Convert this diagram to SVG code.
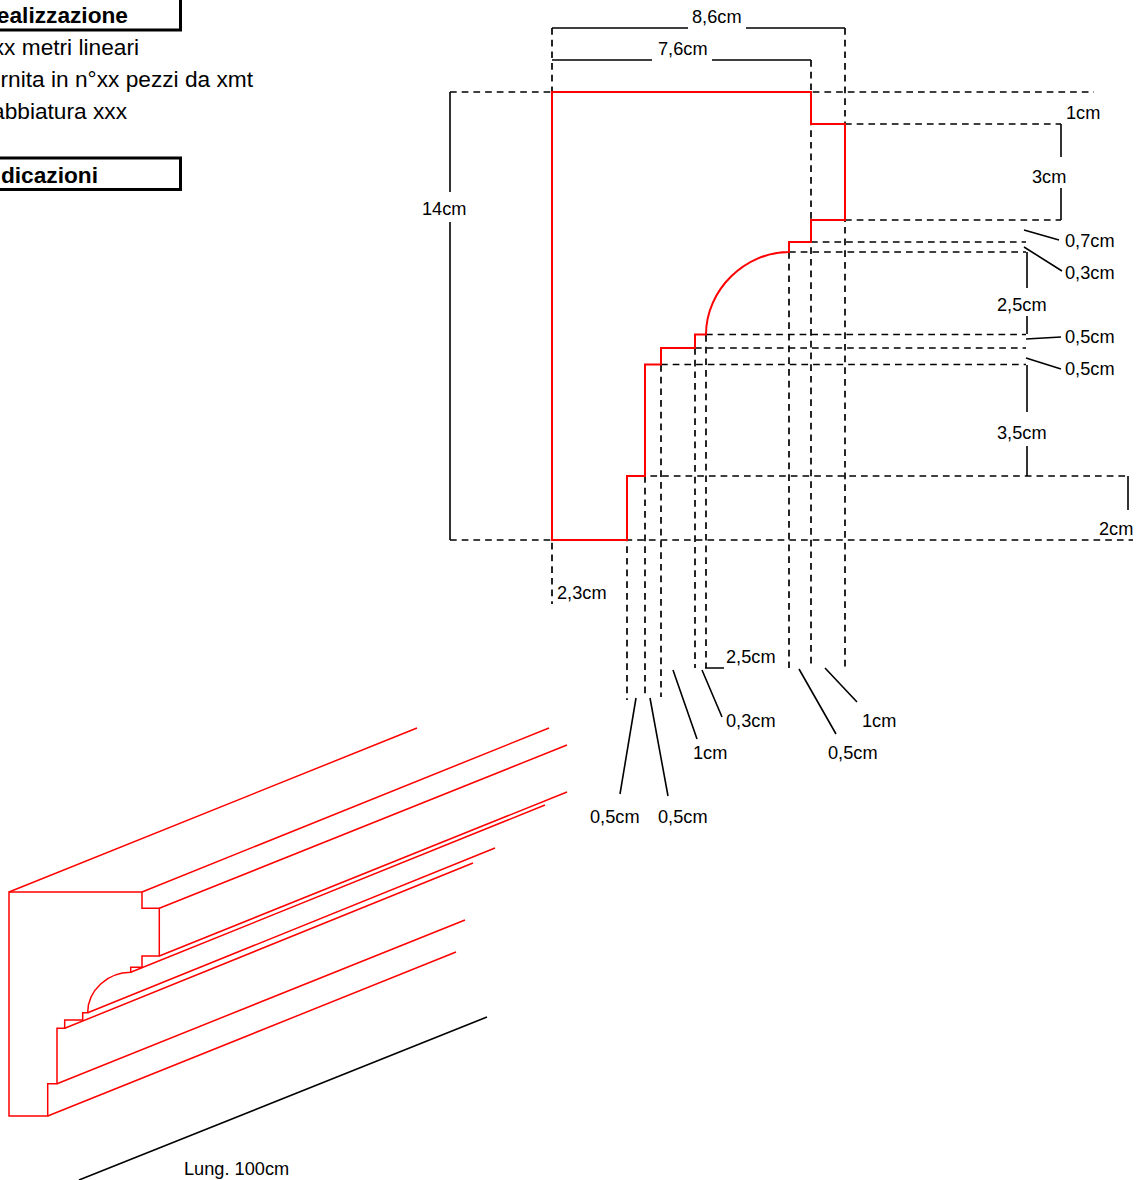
<svg xmlns="http://www.w3.org/2000/svg" width="1138" height="1180" viewBox="0 0 1138 1180">
<style>
text{font-family:"Liberation Sans",Arial,sans-serif;fill:#000}
.d{font-size:18.2px}
.h{font-size:22.7px;font-weight:bold}
.t{font-size:22.7px}
.red{fill:none;stroke:#f00;stroke-width:2;stroke-linejoin:miter}
.red2{fill:none;stroke:#f00;stroke-width:1.5}
.dash{fill:none;stroke:#000;stroke-width:1.7;stroke-dasharray:6.7 5}
.sol{fill:none;stroke:#000;stroke-width:1.6}
.box{fill:none;stroke:#000;stroke-width:3}
</style>
<rect width="1138" height="1180" fill="#fff"/>
<g id="notes">
<path class="box" d="M-10,30H180.500V-10M-10,158H180.500V189.500H-10"/>
<text class="h" x="128" y="23" text-anchor="end">ealizzazione</text>
<text class="t" x="139" y="55" text-anchor="end">xx metri lineari</text>
<text class="t" x="253" y="87" text-anchor="end">rnita in n°xx pezzi da xmt</text>
<text class="t" x="127" y="119" text-anchor="end">abbiatura xxx</text>
<text class="h" x="98" y="183" text-anchor="end">dicazioni</text>
</g>
<g id="dashes">
<path class="dash" d="M450,92H1094M845,124H1061M845,220H1061M811,242H1026M789,252H1026M706,334.500H1026M695,348H1026M661,364.500H1026M627,476H1128M450,540H1133"/>
<path class="dash" d="M552,28V604M811,60V668M845,28V670M789,252V668M706,335V668M695,348V668M661,365V697M645,476V697M627,476V700"/>
</g>
<g id="dimensions">
<path class="sol" d="M552,28H688M746,28H845M552,60H652M712,60H811M450,92V192M450,222V540M1061,124V157M1061,188V220M1027,252V288M1027,316V334M1027,365V412M1027,446V476M1128,476V510"/>
<path class="sol" d="M1024,230L1059,240M1024,247L1062,271M1026,339L1061,337M1026,358L1061,369M636,698L620,794M650,698L668,796M673,670L697,739M702,670L722,717M705,668H724M799,669L836,734M825,668L857,702M487,1017L79,1180"/>
</g>
<g id="profile">
<path class="red" d="M552,92H811V124H845V220H811V242H789V252C745,252 706,290 706,334.500H695V348H661V364.500H645V476H627V540H552Z"/>
</g>
<g id="isometric">
<path class="red2" d="M9,892H142V908.300H159.300V956H142V967.300H130.700V972.300C108,972.300 87.700,990 87.700,1012.700H82.700V1020H64.700V1028.300H57V1083.700H47.700V1116H9Z"/>
<path class="red2" d="M9,892L417,728M142,892L549,728M159.300,908.300L567,745M159.300,956L567,792M130.700,972.300L545,805M87.700,1012.700L495,848M64.700,1028.300L473,863M57,1083.700L465,920M47.700,1116L456,952"/>
</g>
<g id="labels">
<text class="d" x="692" y="23">8,6cm</text>
<text class="d" x="658" y="55">7,6cm</text>
<text class="d" x="1066" y="119">1cm</text>
<text class="d" x="1032" y="183">3cm</text>
<text class="d" x="422" y="215">14cm</text>
<text class="d" x="1065" y="247">0,7cm</text>
<text class="d" x="1065" y="279">0,3cm</text>
<text class="d" x="997" y="311">2,5cm</text>
<text class="d" x="1065" y="343">0,5cm</text>
<text class="d" x="1065" y="375">0,5cm</text>
<text class="d" x="997" y="439">3,5cm</text>
<text class="d" x="1099" y="535">2cm</text>
<text class="d" x="557" y="599">2,3cm</text>
<text class="d" x="726" y="663">2,5cm</text>
<text class="d" x="726" y="727">0,3cm</text>
<text class="d" x="862" y="727">1cm</text>
<text class="d" x="693" y="759">1cm</text>
<text class="d" x="828" y="759">0,5cm</text>
<text class="d" x="590" y="823">0,5cm</text>
<text class="d" x="658" y="823">0,5cm</text>
<text class="d" x="184" y="1175">Lung. 100cm</text>
</g>
</svg>
